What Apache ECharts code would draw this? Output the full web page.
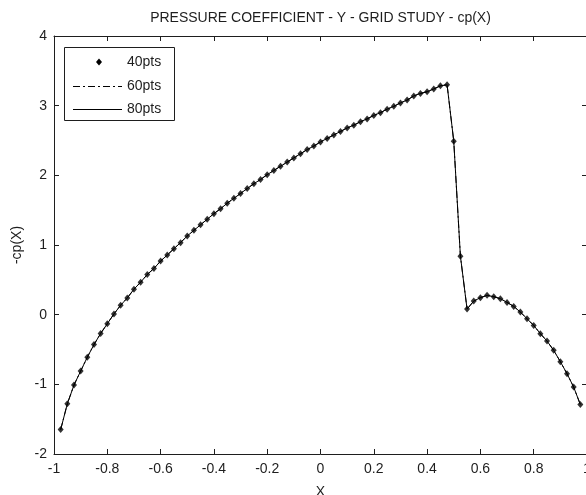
<!DOCTYPE html>
<html><head><meta charset="utf-8">
<script src="https://cdn.jsdelivr.net/npm/echarts@6/dist/echarts.min.js"></script>
<style>html,body{margin:0;padding:0;background:#fff}#c{width:586px;height:495px}</style>
</head><body><div id="c"></div>
<script>
// ---- data ----
const xs = [-0.975,-0.95,-0.925,-0.9,-0.875,-0.85,-0.825,-0.8,-0.775,-0.75,-0.725,-0.7,-0.675,-0.65,-0.625,-0.6,-0.575,-0.55,-0.525,-0.5,
  -0.475,-0.45,-0.425,-0.4,-0.375,-0.35,-0.325,-0.3,-0.275,-0.25,-0.225,-0.2,-0.175,-0.15,-0.125,-0.1,-0.075,-0.05,-0.025,0,
  0.025,0.05,0.075,0.1,0.125,0.15,0.175,0.2,0.225,0.25,0.275,0.3,0.325,0.35,0.375,0.4,0.425,0.45,0.475,0.5,
  0.525,0.55,0.575,0.6,0.625,0.65,0.675,0.7,0.725,0.75,0.775,0.8,0.825,0.85,0.875,0.9,0.925,0.95,0.975];
const cp40 = [-1.65,-1.28,-1.01,-0.81,-0.61,-0.43,-0.27,-0.13,0.01,0.135,0.24,0.365,0.466,0.577,0.663,0.769,0.856,0.947,1.034,1.13,
  1.21,1.29,1.37,1.45,1.52,1.60,1.67,1.74,1.81,1.88,1.94,2.01,2.07,2.13,2.19,2.25,2.31,2.37,2.42,2.48,
  2.53,2.58,2.63,2.68,2.72,2.77,2.81,2.86,2.90,2.95,2.99,3.04,3.08,3.14,3.175,3.20,3.24,3.285,3.30,2.49,
  0.84,0.08,0.195,0.244,0.277,0.258,0.229,0.176,0.119,0.037,-0.058,-0.154,-0.273,-0.379,-0.512,-0.675,-0.847,-1.04,-1.29];
const cp60 = cp40.slice();
const cp80 = cp40.slice();
const seriesNames = ['40pts','60pts','80pts'];
const titleText = 'PRESSURE COEFFICIENT - Y - GRID STUDY - cp(X)';
const xName = 'X';
const yName = '-cp(X)';

const pairs = ys => xs.map((x, i) => [x, ys[i]]);
const FONT = '"Liberation Sans", Arial, sans-serif';
const INK = '#1e1e1e';

const chart = echarts.init(document.getElementById('c'), null, {renderer: 'canvas'});
const gridL = 54, gridT = 36, gridW = 533, gridH = 418;
const baseX = {
  type: 'value', min: -1, max: 1, interval: 0.2,
  axisLine: {show: true, onZero: false, lineStyle: {color: INK, width: 1}},
  axisTick: {show: true, inside: true, length: 5, lineStyle: {color: INK}},
  splitLine: {show: false}
};
const baseY = {
  type: 'value', min: -2, max: 4, interval: 1,
  axisLine: {show: true, onZero: false, lineStyle: {color: INK, width: 1}},
  axisTick: {show: true, inside: true, length: 5, lineStyle: {color: INK}},
  splitLine: {show: false}
};
const option = {
  animation: false,
  backgroundColor: '#fff',
  grid: {left: gridL, top: gridT, width: gridW, height: gridH, containLabel: false, outerBoundsMode: 'none'},
  xAxis: [
    Object.assign({}, baseX, {position: 'bottom',
      name: xName, nameLocation: 'middle', nameGap: 31,
      nameTextStyle: {color: INK, fontSize: 14, fontFamily: FONT},
      axisLabel: {show: true, margin: 8, color: INK, fontSize: 14, fontFamily: FONT, showMinLabel: true, showMaxLabel: true}}),
    Object.assign({}, baseX, {position: 'top', axisLabel: {show: false}})
  ],
  yAxis: [
    Object.assign({}, baseY, {position: 'left',
      name: yName, nameLocation: 'middle', nameGap: 27, nameRotate: 90,
      nameTextStyle: {color: INK, fontSize: 14, fontFamily: FONT},
      axisLabel: {show: true, margin: 7, color: INK, fontSize: 14, fontFamily: FONT}}),
    Object.assign({}, baseY, {position: 'right', axisLabel: {show: false}})
  ],
  series: [
    {name: seriesNames[2], type: 'line', data: pairs(cp80), showSymbol: false, symbol: 'none',
     lineStyle: {color: '#000', width: 1, type: 'solid'}, z: 2},
    {name: seriesNames[1], type: 'line', data: pairs(cp60), showSymbol: false, symbol: 'none',
     lineStyle: {color: '#000', width: 1, type: [7, 3, 2, 3]}, z: 3},
    {name: seriesNames[0], type: 'scatter', data: pairs(cp40), symbol: 'diamond', symbolSize: [6, 7],
     itemStyle: {color: '#000'}, z: 4}
  ],
  graphic: [
    {type: 'text', x: 320.5, y: 18, style: {text: titleText, fill: INK, font: '14px ' + FONT, textAlign: 'center', textVerticalAlign: 'middle'}, z: 10},
    {type: 'rect', shape: {x: 64.5, y: 47.5, width: 110, height: 73}, style: {fill: '#fff', stroke: INK, lineWidth: 1}, z: 10},
    {type: 'polygon', shape: {points: [[99, 58.5], [102, 62], [99, 65.5], [96, 62]]}, style: {fill: '#000'}, z: 11},
    {type: 'line', shape: {x1: 73, y1: 86.5, x2: 122, y2: 86.5}, style: {stroke: '#000', lineWidth: 1, lineDash: [7, 3, 2, 3]}, z: 11},
    {type: 'line', shape: {x1: 73, y1: 109.5, x2: 122, y2: 109.5}, style: {stroke: '#000', lineWidth: 1}, z: 11},
    {type: 'text', x: 127, y: 62, style: {text: seriesNames[0], fill: INK, font: '14px ' + FONT, textVerticalAlign: 'middle'}, z: 11},
    {type: 'text', x: 127, y: 86, style: {text: seriesNames[1], fill: INK, font: '14px ' + FONT, textVerticalAlign: 'middle'}, z: 11},
    {type: 'text', x: 127, y: 109, style: {text: seriesNames[2], fill: INK, font: '14px ' + FONT, textVerticalAlign: 'middle'}, z: 11}
  ]
};
chart.setOption(option);
</script>
</body></html>
